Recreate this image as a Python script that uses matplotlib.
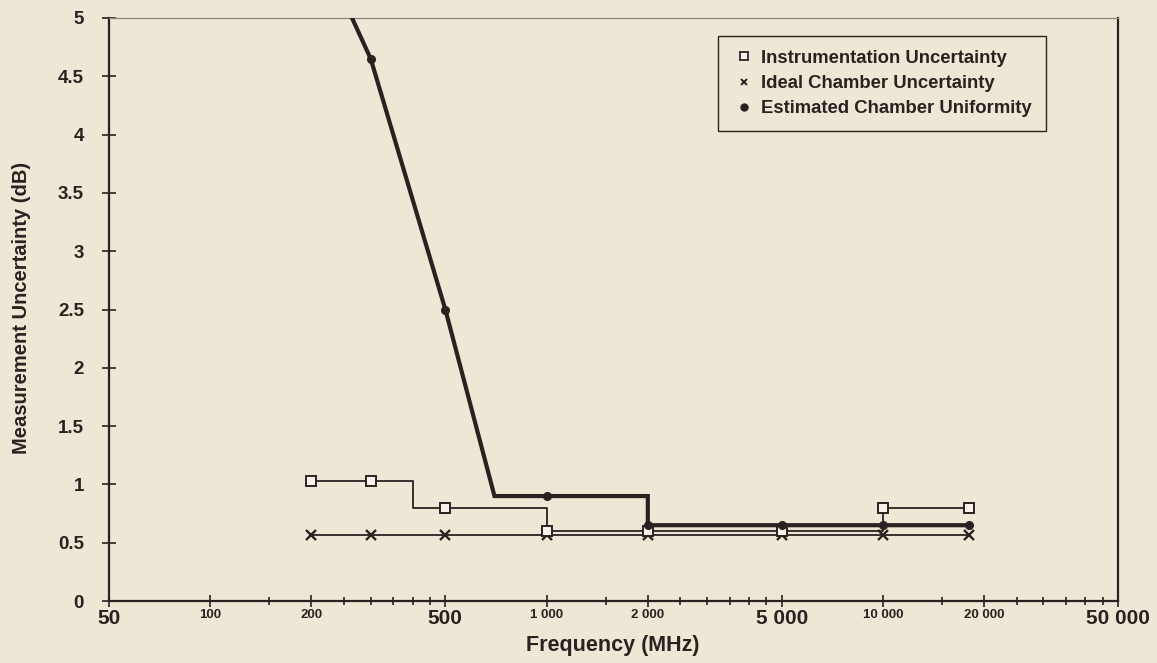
import matplotlib
matplotlib.use("Agg")
import matplotlib.pyplot as plt
from matplotlib.lines import Line2D
from matplotlib.ticker import FixedLocator, NullFormatter

# ---- data -------------------------------------------------------------
# Instrumentation uncertainty (dB): stepped curve, breakpoints included
instr_freq = [200, 300, 400, 400, 500, 1000, 1000, 2000, 5000, 10000, 10000, 18000]
instr_unc = [1.03, 1.03, 1.03, 0.80, 0.80, 0.80, 0.60, 0.60, 0.60, 0.60, 0.80, 0.80]
instr_marks = [0, 1, 4, 6, 7, 8, 10, 11]

# Ideal chamber uncertainty (dB)
ideal_freq = [200, 300, 500, 1000, 2000, 5000, 10000, 18000]
ideal_unc = [0.57, 0.57, 0.57, 0.57, 0.57, 0.57, 0.57, 0.57]

# Estimated chamber uniformity (dB)
est_freq = [200, 300, 500, 700, 1000, 2000, 2000, 5000, 10000, 18000]
est_unc = [5.76, 4.65, 2.50, 0.90, 0.90, 0.90, 0.65, 0.65, 0.65, 0.65]
est_marks = [0, 1, 2, 4, 6, 7, 8, 9]

series_labels = ["Instrumentation Uncertainty",
                 "Ideal Chamber Uncertainty",
                 "Estimated Chamber Uniformity"]

y_ticks = [0, 0.5, 1, 1.5, 2, 2.5, 3, 3.5, 4, 4.5, 5]
y_ticklabels = ["0", "0.5", "1", "1.5", "2", "2.5", "3", "3.5", "4", "4.5", "5"]

x_ticks = [50, 100, 200, 500, 1000, 2000, 5000, 10000, 20000, 50000]
x_ticklabels = ["50", "100", "200", "500", "1 000", "2 000",
                "5 000", "10 000", "20 000", "50 000"]
x_big = ["50", "500", "5 000", "50 000"]
x_minor = [150, 250, 300, 350, 400, 450,
           1500, 2500, 3000, 3500, 4000, 4500,
           15000, 25000, 30000, 35000, 40000, 45000]

# ---- styling ----------------------------------------------------------
BG = "#EEE7D5"
INK = "#2A2220"
plt.rcParams["font.family"] = ["Liberation Sans", "DejaVu Sans"]

W, H = 1157, 663
fig = plt.figure(figsize=(W / 100, H / 100), dpi=100, facecolor=BG)
ax = fig.add_axes([109 / W, 1 - 601 / H, (1118 - 109) / W, (601 - 18) / H])
ax.set_facecolor(BG)

ax.set_xscale("log")
ax.set_xlim(50, 50000)
ax.set_ylim(0, 5)

ax.plot(ideal_freq, ideal_unc, color=INK, lw=1.3, marker="x", ms=7,
        mew=1.7, mec=INK, zorder=3)
ax.plot(instr_freq, instr_unc, color=INK, lw=1.3, marker="s", ms=7,
        mfc="#F7F3EA", mec=INK, mew=1.4, markevery=instr_marks, zorder=4)
ax.plot(est_freq, est_unc, color=INK, lw=3.0, marker="o", ms=5.5,
        mfc=INK, mec=INK, markevery=est_marks, zorder=5,
        solid_joinstyle="miter")

# axes frame
for side in ("left", "bottom", "right"):
    ax.spines[side].set_color(INK)
    ax.spines[side].set_linewidth(1.6)
ax.spines["top"].set_color("#8C8780")
ax.spines["top"].set_linewidth(0.9)
ax.spines["top"].set_linestyle((0, (2, 1)))

# y axis
ax.set_yticks(y_ticks)
ax.set_yticklabels(y_ticklabels, fontsize=13.5, fontweight="bold", color=INK)
ax.tick_params(axis="y", direction="inout", length=10, width=1.2,
               color=INK, pad=13)

# x axis
ax.xaxis.set_major_locator(FixedLocator(x_ticks))
ax.xaxis.set_minor_locator(FixedLocator(x_minor))
ax.xaxis.set_minor_formatter(NullFormatter())
ax.set_xticklabels(x_ticklabels, color=INK)
for lab in ax.get_xticklabels():
    lab.set_fontweight("bold")
    lab.set_fontsize(15 if lab.get_text() in x_big else 9.5)
ax.tick_params(axis="x", which="major", direction="inout", length=8,
               width=1.2, color=INK, pad=2)
ax.tick_params(axis="x", which="minor", direction="inout", length=6,
               width=1.2, color=INK)

# axis titles
fig.text(22 / W, 1 - 308 / H, "Measurement Uncertainty (dB)", rotation=90,
         ha="center", va="center", fontsize=14.5, fontweight="bold", color=INK)
fig.text(613 / W, 1 - 646 / H, "Frequency (MHz)", ha="center", va="center",
         fontsize=15.5, fontweight="bold", color=INK)

# legend
handles = [
    Line2D([], [], ls="none", marker="s", ms=6, mfc="#F7F3EA", mec=INK, mew=1.3),
    Line2D([], [], ls="none", marker="x", ms=5, mec=INK, mew=1.4),
    Line2D([], [], ls="none", marker="o", ms=5, mfc=INK, mec=INK),
]
leg = fig.legend(handles, series_labels, loc="upper left",
                 bbox_to_anchor=(718 / W, 1 - 36 / H), borderaxespad=0,
                 frameon=True, fancybox=False, edgecolor=INK,
                 facecolor=BG, framealpha=1, handlelength=1.3,
                 handletextpad=0.3, labelspacing=0.45, borderpad=0.75,
                 prop={"size": 13.3, "weight": "bold"})
leg.get_frame().set_linewidth(1.0)
for t in leg.get_texts():
    t.set_color(INK)

fig.savefig("out.png", dpi=100, facecolor=BG)
